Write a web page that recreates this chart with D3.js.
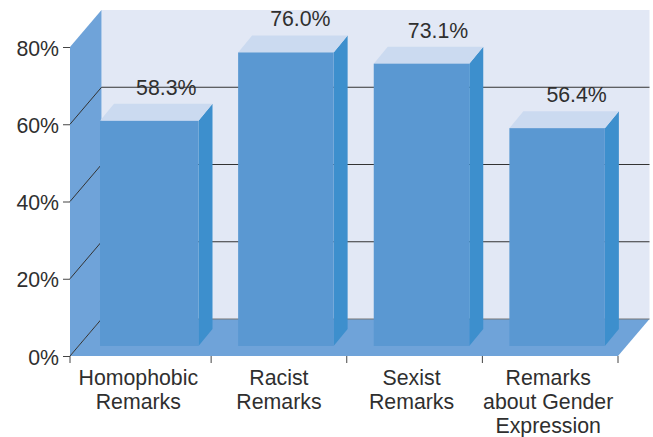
<!DOCTYPE html>
<html>
<head>
<meta charset="utf-8">
<script src="https://cdn.jsdelivr.net/npm/d3@7"></script>
<style>
body { margin: 0; background: #fff; }
text { font-family: "Liberation Sans", Arial, sans-serif; fill: #2f2f2f; }
</style>
</head>
<body>
<svg id="chart" width="653" height="437"></svg>
<script>
"use strict";

var categories = ["Homophobic Remarks", "Racist Remarks", "Sexist Remarks", "Remarks about Gender Expression"];
var categoryLines = [["Homophobic", "Remarks"], ["Racist", "Remarks"], ["Sexist", "Remarks"], ["Remarks", "about Gender", "Expression"]];
var values = [58.3, 76.0, 73.1, 56.4];
var valueLabels = ["58.3%", "76.0%", "73.1%", "56.4%"];
var yTicks = [0, 20, 40, 60, 80];

var svg = d3.select("#chart");

var y = d3.scaleLinear().domain([0, 80]).range([356, 47]);
var x = d3.scaleBand().domain(categories).range([75.5, 618]);

var left = 70, right = 618;
var wallDx = 31.5, wallDy = -37;  // depth of the room
var barDx = 14, barDy = -17;      // depth of a bar
var barLift = 10, barInset = 27, barW = 95.5;
var fontSize = 21.3;

function poly(pts, fill) {
	return svg.append("polygon").attr("points", pts.map(function(p) { return p.join(","); }).join(" ")).attr("fill", fill);
}

// back wall, side wall, floor
poly([[left + wallDx, y(80) + wallDy], [right + wallDx, y(80) + wallDy], [right + wallDx, y(0) + wallDy], [left + wallDx, y(0) + wallDy]], "#e2e8f5");
poly([[left, y(80)], [left + wallDx, y(80) + wallDy], [left + wallDx, y(0) + wallDy], [left, y(0)]], "#6fa3d9");
poly([[left, y(0)], [right, y(0)], [right + wallDx, y(0) + wallDy], [left + wallDx, y(0) + wallDy]], "#6fa3d9");

// grid lines, along the back then the wall diagonal
var grid = svg.append("g").attr("fill", "none");
grid.selectAll("path.back").data(yTicks.slice(0, 4)).join("path").attr("class", "back")
	.attr("stroke", function(d) { return d === 0 ? "#777" : "#333"; })
	.attr("d", function(d) {
		return "M" + (left + wallDx) + "," + (y(d) + wallDy) + "H" + (right + wallDx);
	});
grid.selectAll("path.diag").data(yTicks.slice(0, 4)).join("path").attr("class", "diag")
	.attr("stroke", "#333")
	.attr("d", function(d) {
		return "M" + left + "," + y(d) + "L" + (left + wallDx) + "," + (y(d) + wallDy);
	});

// axes
var yAxis = svg.append("g").attr("transform", "translate(" + left + ",0)")
	.call(d3.axisLeft(y).tickValues(yTicks).tickSize(7).tickPadding(4).tickFormat(function(d) { return d + "%"; }));
yAxis.select(".domain").remove();
yAxis.selectAll("line").attr("stroke", "#444");
yAxis.selectAll("text").attr("font-size", fontSize).attr("dy", "0.38em").style("fill", "#2f2f2f")
	.style("font-family", '"Liberation Sans", Arial, sans-serif');

svg.append("g").selectAll("line").data([left].concat(categories.map(function(c) { return x(c) + x.step(); }))).join("line")
	.attr("x1", function(d) { return d; }).attr("x2", function(d) { return d; })
	.attr("y1", y(0)).attr("y2", y(0) + 7)
	.attr("stroke", "#444");

// bars
function barLeft(i) { return x(categories[i]) + barInset - (i === 0 ? 2.5 : 0); }
function barWidth(i) { return barW + (i === 0 ? 3 : 0); }

var bars = svg.append("g").selectAll("g").data(values).join("g");
bars.append("polygon").attr("fill", "#3d8fcd").attr("points", function(d, i) {
	var r = barLeft(i) + barWidth(i), t = y(d) - barLift, b = y(0) - barLift;
	return [[r, t], [r + barDx, t + barDy], [r + barDx, b + barDy], [r, b]].join(" ");
});
bars.append("polygon").attr("fill", "#cbdaf0").attr("points", function(d, i) {
	var l = barLeft(i), r = l + barWidth(i), t = y(d) - barLift;
	return [[l, t], [r, t], [r + barDx, t + barDy], [l + barDx, t + barDy]].join(" ");
});
bars.append("rect").attr("fill", "#5a98d2")
	.attr("x", function(d, i) { return barLeft(i); })
	.attr("width", function(d, i) { return barWidth(i); })
	.attr("y", function(d) { return y(d) - barLift; })
	.attr("height", function(d) { return y(0) - y(d); });

// value labels
var valueShift = [17, 14.5, 16.5, 19.5];
svg.append("g").selectAll("text").data(values).join("text")
	.attr("x", function(d, i) { return barLeft(i) + barWidth(i) / 2 + valueShift[i]; })
	.attr("y", function(d) { return y(d) - barLift - 26; })
	.attr("text-anchor", "middle").attr("font-size", fontSize)
	.text(function(d, i) { return valueLabels[i]; });

// category labels
var labelShift = [-5, 0, -3, -2];
var labels = svg.append("g").selectAll("text").data(categoryLines).join("text")
	.attr("text-anchor", "middle").attr("font-size", fontSize);
labels.selectAll("tspan").data(function(d, i) { return d.map(function(t) { return { t: t, i: i }; }); }).join("tspan")
	.attr("x", function(d) { return x(categories[d.i]) + x.bandwidth() / 2 + labelShift[d.i]; })
	.attr("y", function(d, j) { return 385 + j * 24; })
	.text(function(d) { return d.t; });
</script>
</body>
</html>
